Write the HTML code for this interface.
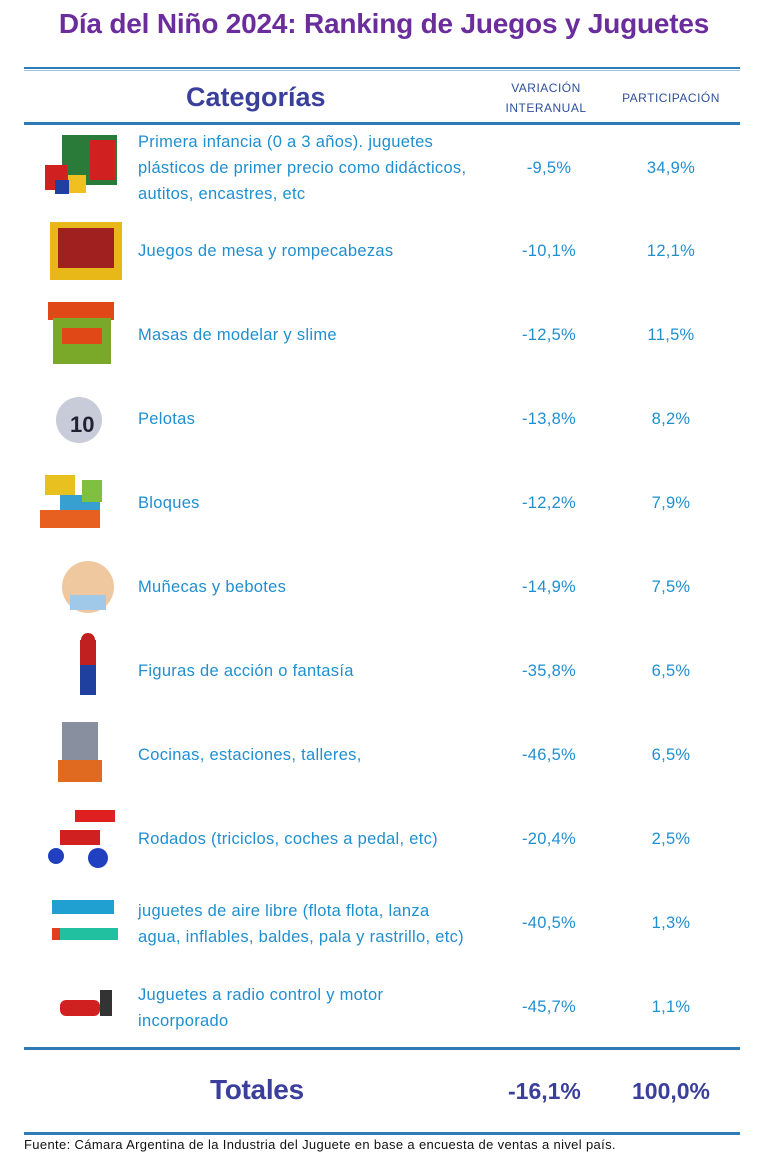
<!DOCTYPE html>
<html><head><meta charset="utf-8"><style>
body{margin:0;width:768px;height:1152px;background:#fff;font-family:"Liberation Sans",sans-serif;position:relative;overflow:hidden}
.a{position:absolute}
.t{left:0;width:768px;top:8px;text-align:center;font-size:28px;font-weight:bold;color:#6b2c9c;letter-spacing:-0.2px}
.ln{left:24px;width:716px;height:3px;background:#2e7bb8}
.c{color:#1f8fd0;font-size:16.5px;letter-spacing:0.3px;line-height:26px;white-space:nowrap}
.v{width:110px;text-align:center}
.h{color:#2e4f9c;font-size:12px;text-align:center;letter-spacing:0.5px;line-height:20px}
</style></head><body>
<div class="a t">Día del Niño 2024: Ranking de Juegos y Juguetes</div>
<div class="a ln" style="top:67px;height:2px"></div>
<div class="a ln" style="top:70px;height:1px;background:#9cc3e0"></div>
<div class="a" style="left:186px;top:82px;font-size:27px;font-weight:bold;color:#3a3f9c">Categorías</div>
<div class="a h" style="left:486px;width:120px;top:78px">VARIACIÓN<br>INTERANUAL</div>
<div class="a h" style="left:606px;width:130px;top:88px">PARTICIPACIÓN</div>
<div class="a ln" style="top:122px"></div>

<div class="a c" style="left:138px;top:129px">Primera infancia (0 a 3 años). juguetes<br>plásticos de primer precio como didácticos,<br>autitos, encastres, etc</div>
<div class="a c v" style="left:494px;top:155px">-9,5%</div><div class="a c v" style="left:616px;top:155px">34,9%</div>
<div class="a c" style="left:138px;top:238px">Juegos de mesa y rompecabezas</div>
<div class="a c v" style="left:494px;top:238px">-10,1%</div><div class="a c v" style="left:616px;top:238px">12,1%</div>
<div class="a c" style="left:138px;top:322px">Masas de modelar y slime</div>
<div class="a c v" style="left:494px;top:322px">-12,5%</div><div class="a c v" style="left:616px;top:322px">11,5%</div>
<div class="a c" style="left:138px;top:406px">Pelotas</div>
<div class="a c v" style="left:494px;top:406px">-13,8%</div><div class="a c v" style="left:616px;top:406px">8,2%</div>
<div class="a c" style="left:138px;top:490px">Bloques</div>
<div class="a c v" style="left:494px;top:490px">-12,2%</div><div class="a c v" style="left:616px;top:490px">7,9%</div>
<div class="a c" style="left:138px;top:574px">Muñecas y bebotes</div>
<div class="a c v" style="left:494px;top:574px">-14,9%</div><div class="a c v" style="left:616px;top:574px">7,5%</div>
<div class="a c" style="left:138px;top:658px">Figuras de acción o fantasía</div>
<div class="a c v" style="left:494px;top:658px">-35,8%</div><div class="a c v" style="left:616px;top:658px">6,5%</div>
<div class="a c" style="left:138px;top:742px">Cocinas, estaciones, talleres,</div>
<div class="a c v" style="left:494px;top:742px">-46,5%</div><div class="a c v" style="left:616px;top:742px">6,5%</div>
<div class="a c" style="left:138px;top:826px">Rodados (triciclos, coches a pedal, etc)</div>
<div class="a c v" style="left:494px;top:826px">-20,4%</div><div class="a c v" style="left:616px;top:826px">2,5%</div>
<div class="a c" style="left:138px;top:898px">juguetes de aire libre (flota flota, lanza<br>agua, inflables, baldes, pala y rastrillo, etc)</div>
<div class="a c v" style="left:494px;top:910px">-40,5%</div><div class="a c v" style="left:616px;top:910px">1,3%</div>
<div class="a c" style="left:138px;top:982px">Juguetes a radio control y motor<br>incorporado</div>
<div class="a c v" style="left:494px;top:994px">-45,7%</div><div class="a c v" style="left:616px;top:994px">1,1%</div>

<svg class="a" style="left:0;top:0" width="140" height="1048">
<rect x="62" y="135" width="55" height="50" fill="#2a7a3a"/><rect x="90" y="140" width="25" height="40" fill="#d02020"/><rect x="45" y="165" width="22" height="25" fill="#d02020"/><rect x="68" y="175" width="18" height="18" fill="#f0c020"/><rect x="55" y="180" width="14" height="14" fill="#2040a0"/>
<rect x="50" y="222" width="72" height="58" fill="#e8b818"/><rect x="58" y="228" width="56" height="40" fill="#a02020"/>
<rect x="48" y="302" width="66" height="18" fill="#e04818"/><rect x="53" y="318" width="58" height="46" fill="#7aa828"/><rect x="62" y="328" width="40" height="16" fill="#e04818"/>
<circle cx="79" cy="420" r="23" fill="#c8ccd8"/><text x="70" y="432" font-size="22" font-weight="bold" fill="#223">10</text>
<rect x="45" y="475" width="30" height="20" fill="#e8c020"/><rect x="60" y="495" width="40" height="20" fill="#38a0d0"/><rect x="40" y="510" width="60" height="18" fill="#e86020"/><rect x="82" y="480" width="20" height="22" fill="#80c040"/>
<ellipse cx="88" cy="587" rx="26" ry="26" fill="#f0c8a0"/><rect x="70" y="595" width="36" height="15" fill="#a0c8e8"/>
<rect x="80" y="640" width="16" height="25" fill="#c02020"/><rect x="80" y="665" width="16" height="30" fill="#2040a0"/><circle cx="88" cy="640" r="7" fill="#c02020"/>
<rect x="62" y="722" width="36" height="40" fill="#8890a0"/><rect x="58" y="760" width="44" height="22" fill="#e06a20"/>
<circle cx="56" cy="856" r="8" fill="#2040c0"/><circle cx="98" cy="858" r="10" fill="#2040c0"/><rect x="60" y="830" width="40" height="15" fill="#d02020"/><rect x="75" y="810" width="40" height="12" fill="#e02020"/>
<rect x="52" y="900" width="62" height="14" fill="#20a0d0"/><rect x="56" y="928" width="62" height="12" fill="#20c0a0"/><rect x="52" y="928" width="8" height="12" fill="#e04020"/>
<rect x="60" y="1000" width="40" height="16" rx="6" fill="#d02020"/><rect x="100" y="990" width="12" height="26" fill="#333"/>
</svg>

<div class="a ln" style="top:1047px"></div>
<div class="a" style="left:210px;top:1074px;font-size:28px;font-weight:bold;color:#3a3f9c;letter-spacing:-0.3px">Totales</div>
<div class="a" style="left:508px;top:1078px;font-size:23px;font-weight:bold;color:#3a3f9c">-16,1%</div>
<div class="a" style="left:632px;top:1078px;font-size:23px;font-weight:bold;color:#3a3f9c">100,0%</div>
<div class="a ln" style="top:1132px"></div>
<div class="a" style="left:24px;top:1137px;font-size:13px;color:#111;letter-spacing:0.35px;white-space:nowrap">Fuente: Cámara Argentina de la Industria del Juguete en base a encuesta de ventas a nivel país.</div>
</body></html>
